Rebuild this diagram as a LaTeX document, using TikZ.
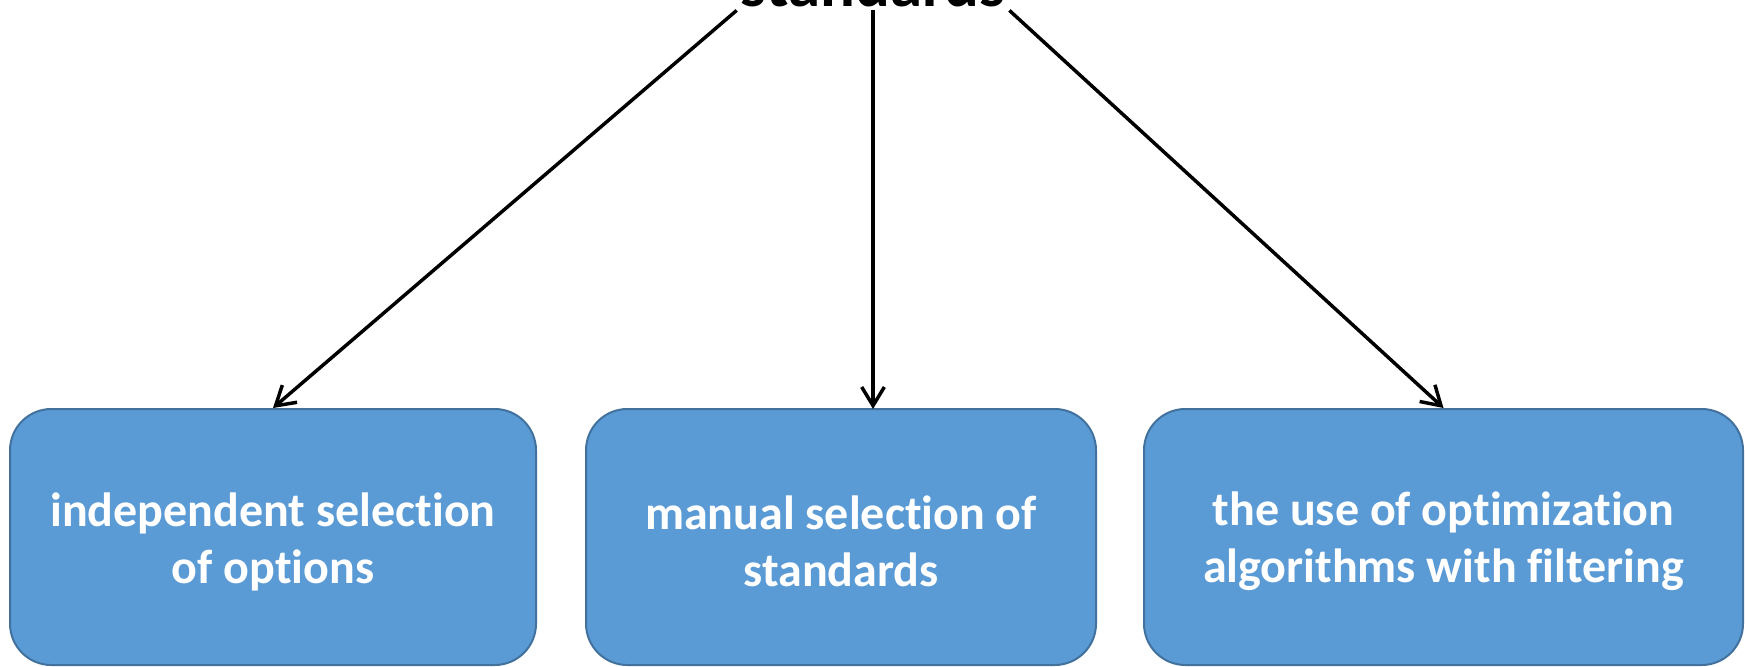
\documentclass[tikz,border=0pt]{standalone}
\usepackage{fontspec}
\setmainfont{Carlito}[RawFeature=-liga]
\usetikzlibrary{arrows.meta}
\definecolor{boxfill}{HTML}{5B9BD5}
\definecolor{boxline}{HTML}{41719C}
\tikzset{
  stdbox/.style={draw=boxline, fill=boxfill, line width=1.5pt, rounded corners=31pt,
    minimum height=192pt, inner sep=0pt},
  boxtext/.style={text=white, align=center, yshift=-3.5pt,
    font=\fontsize{36pt}{42.75pt}\selectfont\bfseries},
  conn/.style={draw=black, line width=2.6pt,
    -{Straight Barb[length=14pt,width=17pt,line width=2.6pt]}},
}
\begin{document}
\begin{tikzpicture}[x=0.75pt,y=-0.75pt]
\useasboundingbox (0,0) rectangle (1745,667);
\clip (0,0) rectangle (1745,667);
\node[anchor=base, font=\fontsize{48.75pt}{58pt}\selectfont\bfseries, inner xsep=3pt, inner ysep=2pt] (top) at (873,7) {standards};
\node[stdbox, minimum width=394.5pt, label={[boxtext]center:independent selection\\of options}] (b1) at (273,537) {};
\node[stdbox, minimum width=382.5pt, label={[boxtext]center:manual selection of\\standards}] (b2) at (841,537) {};
\node[stdbox, minimum width=449.25pt, label={[boxtext]center:the use of optimization\\algorithms with filtering}] (b3) at (1443.5,537) {};
\coordinate (e2) at (873,409);
\draw[conn] (top.south west) -- (b1.north);
\draw[conn] (top.south) -- (e2);
\draw[conn] (top.south east) -- (b3.north);
\end{tikzpicture}
\end{document}
